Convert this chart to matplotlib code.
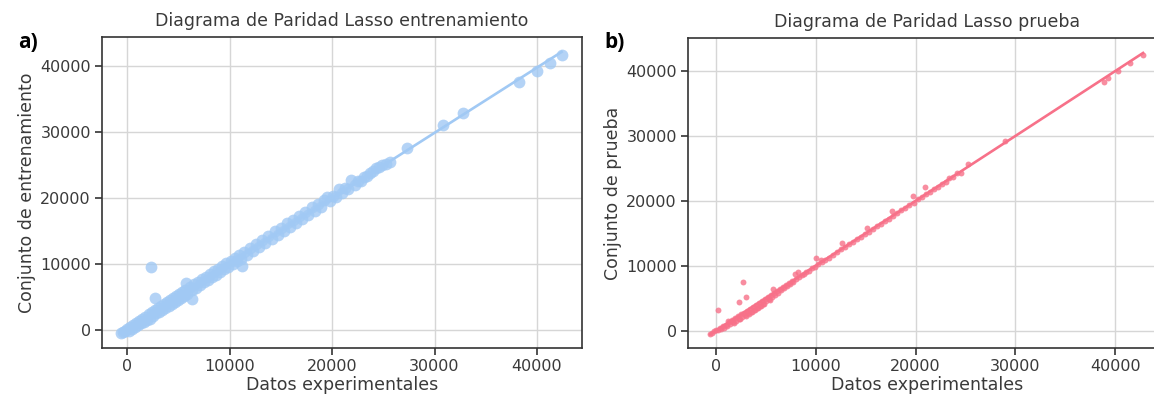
import matplotlib
matplotlib.use("Agg")
import matplotlib.pyplot as plt
import numpy as np

# Panel a) training set: experimental vs predicted
train_x = [
    -600, -400, -200, 0, 150, 300, 450, 600, 750, 900, 1050, 1200, 1350, 1500,
    1650, 1800, 1950, 2100, 2250, 2300, 2400, 2550, 2700, 2700, 2850, 3000,
    3150, 3300, 3450, 3600, 3750, 3900, 4050, 4200, 4350, 4500, 4650, 4800,
    4950, 5100, 5250, 5400, 5550, 5700, 5800, 5900, 6100, 6300, 6300, 6500,
    6700, 6900, 7100, 7300, 7500, 7700, 7900, 8100, 8300, 8500, 8700, 8900,
    9100, 9300, 9500, 9700, 9900, 10100, 10300, 10500, 10700, 10900, 11100,
    11200, 11400, 11700, 12000, 12300, 12600, 12900, 13200, 13500, 13800,
    14100, 14400, 14700, 15000, 15300, 15600, 15900, 16200, 16500, 16800,
    17100, 17400, 17700, 18000, 18300, 18600, 18900, 19200, 19500, 19800,
    20100, 20400, 20700, 21000, 21300, 21600, 21900, 22200, 22500, 22800,
    23100, 23400, 23700, 24000, 24300, 24600, 24900, 25300, 25700, 27300,
    30800, 32800, 38200, 40000, 41300, 42400,
]
train_y = [
    -500, -300, -100, 200, -100, 500, 200, 800, 400, 1100, 700, 1400, 1000,
    1700, 1200, 2000, 1500, 2400, 1700, 9600, 2700, 2100, 4800, 3100, 2500,
    3400, 2700, 3700, 3000, 4000, 3300, 4300, 3600, 4600, 3900, 4900, 4200,
    5200, 4500, 5500, 4900, 5800, 5100, 6000, 7100, 5500, 6500, 4700, 6000,
    6900, 6400, 7300, 6800, 7700, 7200, 8100, 7600, 8500, 8000, 8900, 8400,
    9300, 8800, 9700, 9200, 10100, 9600, 10500, 10000, 10900, 10400, 11300,
    10800, 9700, 11800, 11400, 12400, 12000, 13000, 12600, 13700, 13200,
    14200, 13800, 15000, 14400, 15400, 15000, 16200, 15600, 16700, 16200,
    17300, 16800, 17800, 17400, 18600, 18000, 19100, 18600, 19700, 20200,
    19500, 20300, 20100, 21400, 20700, 21500, 21300, 22700, 22000, 22600,
    22600, 23200, 23300, 23800, 24100, 24500, 24700, 25000, 25200, 25400,
    27600, 31000, 32900, 37500, 39300, 40500, 41700,
]

# Panel b) test set
test_x = [
    -600, -400, -200, 0, 200, 200, 400, 500, 700, 800, 1000, 1100, 1300, 1400,
    1600, 1700, 1900, 2000, 2200, 2300, 2300, 2500, 2600, 2700, 2800, 2900,
    3000, 3100, 3200, 3400, 3500, 3700, 3800, 4000, 4100, 4300, 4400, 4600,
    4700, 4900, 5000, 5200, 5300, 5500, 5600, 5700, 5800, 5900, 6100, 6200,
    6400, 6500, 6700, 6800, 7000, 7100, 7300, 7400, 7600, 7700, 7900, 8000,
    8200, 8300, 8600, 8800, 9000, 9300, 9600, 9900, 10000, 10200, 10500,
    10600, 10900, 11300, 11700, 12100, 12500, 12600, 12900, 13300, 13700,
    14100, 14500, 14900, 15100, 15300, 15700, 16100, 16500, 16900, 17300,
    17600, 17700, 18100, 18500, 18900, 19300, 19700, 19800, 20200, 20600,
    20900, 21000, 21400, 21800, 22200, 22600, 23000, 23400, 23800, 24200,
    24600, 25300, 29000, 38900, 39300, 40300, 41500, 42800,
    1200, 1800, 2400, 3000, 3600, 4200, 4800, 5400, 3300, 3900, 4500,
]
test_y = [
    -500, -250, -50, 150, 3200, 100, 450, 250, 700, 500, 1000, 750, 1350, 1050,
    1650, 1350, 1950, 1600, 2250, 1900, 4400, 2550, 2150, 7600, 2800, 2400,
    5200, 3100, 2700, 3400, 2950, 3700, 3250, 4000, 3600, 4350, 3900, 4600,
    4200, 4950, 4600, 5250, 5000, 5550, 5300, 6400, 5850, 5600, 6150, 5900,
    6450, 6250, 6750, 6600, 7050, 6900, 7350, 7250, 7700, 7550, 8800, 8050,
    9100, 8250, 8650, 8700, 9050, 9250, 9700, 9800, 11200, 10250, 11000,
    10550, 10900, 11250, 11750, 12100, 12550, 13600, 12850, 13350, 13700,
    14150, 14500, 15000, 15900, 15250, 15750, 16150, 16500, 16950, 17300,
    18400, 17750, 18100, 18600, 18900, 19350, 20800, 19750, 20250, 20600,
    22100, 21050, 21400, 21850, 22200, 22650, 23000, 23500, 23700, 24250,
    24300, 25700, 29200, 38300, 38900, 40000, 41300, 42500,
    1600, 1200, 1800, 2300, 2900, 3500, 4100, 4800, 2600, 3200, 3800,
]

ticks = [0, 10000, 20000, 30000, 40000]
text_color = "#3a3a3a"


def parity_panel(ax, x, y, color, size, title, ylabel, xlim, ylim):
    x = np.asarray(x, dtype=float)
    y = np.asarray(y, dtype=float)
    ax.grid(True, color="#d6d6d6", linewidth=1.0)
    ax.set_axisbelow(True)
    ax.scatter(x, y, s=size, color=color, alpha=0.8, linewidths=0, zorder=2)
    slope, intercept = np.polyfit(x, y, 1)
    xs = np.array([x.min(), x.max()])
    ax.plot(xs, slope * xs + intercept, color=color, linewidth=1.9, zorder=3)
    ax.set_xlim(*xlim)
    ax.set_ylim(*ylim)
    ax.set_xticks(ticks)
    ax.set_yticks(ticks)
    for sp in ax.spines.values():
        sp.set_color("#333333")
        sp.set_linewidth(1.2)
    ax.tick_params(direction="out", length=5, width=1.2, color="#333333",
                   labelsize=11.5, labelcolor=text_color, pad=3)
    ax.set_title(title, fontsize=12.5, color=text_color, pad=8)
    ax.set_xlabel("Datos experimentales", fontsize=12.5, color=text_color, labelpad=1)
    ax.set_ylabel(ylabel, fontsize=12.5, color=text_color, labelpad=3)


fig = plt.figure(figsize=(11.54, 3.98), dpi=100)
W, H = 1154, 398

ax_a = fig.add_axes([102 / W, 50 / H, 480 / W, 311 / H])
parity_panel(ax_a, train_x, train_y, "#a1c9f4", 72,
             "Diagrama de Paridad Lasso entrenamiento", "Conjunto de entrenamiento",
             (-2440, 44390), (-2730, 44390))

ax_b = fig.add_axes([688 / W, 50 / H, 479 / W, 310 / H])
parity_panel(ax_b, test_x, test_y, "#f77189", 18,
             "Diagrama de Paridad Lasso prueba", "Conjunto de prueba",
             (-2810, 45200), (-2615, 45080))

fig.text(18 / W, 1 - 42 / H, "a)", fontsize=15, fontweight="bold",
         family=["Open Sans", "DejaVu Sans"], va="center", ha="left")
fig.text(604 / W, 1 - 42 / H, "b)", fontsize=15, fontweight="bold",
         family=["Open Sans", "DejaVu Sans"], va="center", ha="left")

fig.savefig("out.png", dpi=100)
